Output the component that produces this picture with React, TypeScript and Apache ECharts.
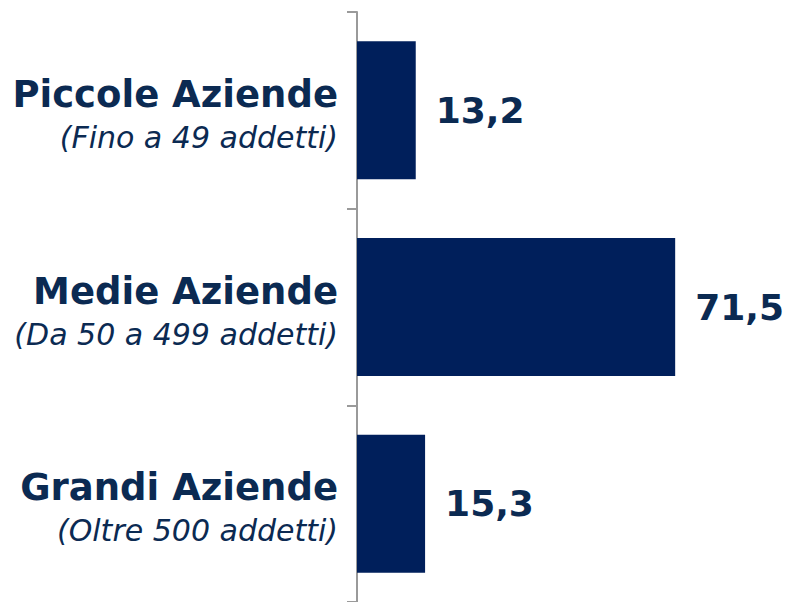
import React, { useEffect, useRef } from "react";
import * as echarts from "echarts";

const categories = ["Piccole Aziende", "Medie Aziende", "Grandi Aziende"];
const subtitles = ["(Fino a 49 addetti)", "(Da 50 a 499 addetti)", "(Oltre 500 addetti)"];
const values = [13.2, 71.5, 15.3];

const TEXT = "#0B2A52";
const BAR = "#001F5B";

export default function App() {
  const ref = useRef<HTMLDivElement>(null);
  useEffect(() => {
    document.body.style.margin = "0";
    const chart = echarts.init(ref.current!, null, { renderer: "svg" });
    chart.setOption({
      animation: false,
      grid: { left: 357, top: 12, width: 356, height: 594 },
      xAxis: { type: "value", min: 0, max: 80, show: false },
      yAxis: {
        type: "category",
        inverse: true,
        data: categories,
        axisLine: { show: true, lineStyle: { color: "#9a9a9a", width: 2 } },
        axisTick: { show: true, length: 10, lineStyle: { color: "#9a9a9a", width: 2 } },
        axisLabel: {
          margin: 19,
          align: "right",
          padding: [12, 0, 0, 0],
          formatter: (v: string, i: number) => `{a|${v}}\n{b|${subtitles[i]}}`,
          rich: {
            a: {
              fontFamily: "DejaVu Sans",
              fontWeight: "bold",
              fontSize: 37,
              color: TEXT,
              lineHeight: 42,
              align: "right",
            },
            b: {
              fontFamily: "DejaVu Sans",
              fontStyle: "italic",
              fontSize: 30,
              color: TEXT,
              lineHeight: 44,
              align: "right",
            },
          },
        },
      },
      series: [
        {
          type: "bar",
          data: values,
          barWidth: 138,
          itemStyle: { color: BAR },
          label: {
            show: true,
            position: "right",
            distance: 20,
            fontFamily: "DejaVu Sans",
            fontWeight: "bold",
            fontSize: 36,
            color: TEXT,
            formatter: (p: any) => String(p.value).replace(".", ","),
          },
        },
      ],
    });
    return () => chart.dispose();
  }, []);
  return <div ref={ref} style={{ width: 789, height: 602 }} />;
}
